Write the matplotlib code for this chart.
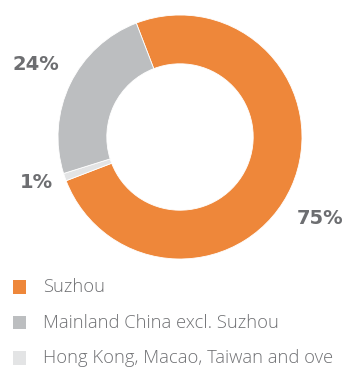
import matplotlib
matplotlib.use("Agg")
import matplotlib.pyplot as plt
from matplotlib.patches import Rectangle

# Revenue share by region
categories = ["Suzhou", "Mainland China excl. Suzhou", "Hong Kong, Macao, Taiwan and ove"]
shares = [75, 24, 1]
colors = ["#EE873A", "#BCBEC0", "#E3E4E5"]

# ring order, clockwise from the top: Suzhou, Hong Kong etc., Mainland
ring_order = [0, 2, 1]
label_pos = {0: (320, 219), 1: (36, 64), 2: (36, 182)}

W, H = 344, 369
fig = plt.figure(figsize=(W / 100, H / 100), dpi=100)

cx, cy, r = 180, 137, 122
ax = fig.add_axes([(cx - r) / W, (H - cy - r) / H, 2 * r / W, 2 * r / H])
ax.pie([shares[i] for i in ring_order],
       colors=[colors[i] for i in ring_order],
       startangle=111, counterclock=False, radius=1.0,
       wedgeprops=dict(width=0.4, edgecolor="white", linewidth=0.6))
ax.set_xlim(-1, 1)
ax.set_ylim(-1, 1)
ax.set_aspect("auto")
ax.axis("off")

label_color = "#6D6E71"
for i, (px, py) in label_pos.items():
    fig.text(px / W, 1 - py / H, f"{shares[i]}%", ha="center", va="center",
             fontsize=14, fontweight="bold", color=label_color,
             family=["DejaVu Sans"])

# legend
rows_y = [287, 322.5, 358]
sq = 13.5
for cat, col, y in zip(categories, colors, rows_y):
    fig.patches.append(Rectangle((12.5 / W, 1 - (y + sq / 2) / H), sq / W, sq / H,
                                 transform=fig.transFigure, facecolor=col,
                                 edgecolor="none"))
    fig.text(43 / W, 1 - y / H, cat, ha="left", va="center", fontsize=13.2,
             color="#707174", family=["Open Sans", "DejaVu Sans"],
             fontweight="light")

fig.savefig("out.png", dpi=100)
